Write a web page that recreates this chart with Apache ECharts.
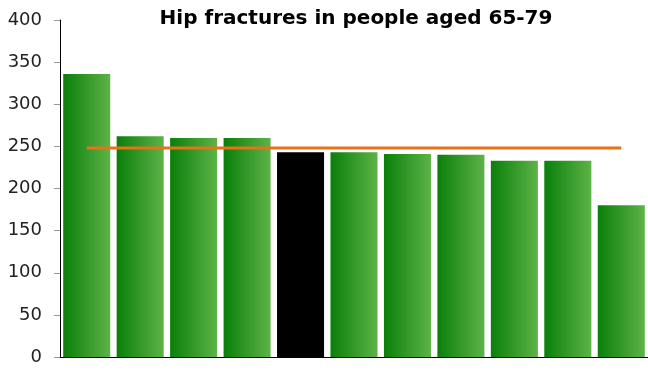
<!DOCTYPE html>
<html><head><meta charset="utf-8">
<script src="https://cdn.jsdelivr.net/npm/echarts@6/dist/echarts.min.js"></script>
<style>html,body{margin:0;padding:0;background:#fff}#c{width:648px;height:370px}</style>
</head><body><div id="c"></div>
<script>
const categories = ['A','B','C','D','E','F','G','H','I','J','K'];
const values = [336, 262, 260, 260, 243, 243, 241, 240, 233, 233, 180];
const highlightIndex = 4;
const averageValue = 248;
const yTicks = [0, 50, 100, 150, 200, 250, 300, 350, 400];

const green = new echarts.graphic.LinearGradient(0, 0, 1, 0, [
  {offset: 0, color: '#0a7f0a'}, {offset: 1, color: '#5db347'}
]);
const chart = echarts.init(document.getElementById('c'));
chart.setOption({
  animation: false,
  title: {text: 'Hip fractures in people aged 65-79', left: 351, textAlign: 'center', top: 4,
    textStyle: {fontFamily: 'DejaVu Sans', fontWeight: 'bold', fontSize: 20, color: '#000'}},
  grid: {left: 60, right: 0, top: 20, bottom: 13},
  xAxis: {type: 'category', data: categories, axisLabel: {show: false}, axisTick: {show: false},
    axisLine: {lineStyle: {color: '#000', width: 1}}},
  yAxis: {type: 'value', min: yTicks[0], max: yTicks[yTicks.length-1], interval: 50,
    splitLine: {show: false},
    axisLine: {show: true, lineStyle: {color: '#000'}},
    axisTick: {show: true, length: 6, lineStyle: {color: '#999'}},
    axisLabel: {fontFamily: 'DejaVu Sans', fontSize: 18, color: '#222', margin: 18}},
  series: [
    {type: 'bar', barCategoryGap: '12%',
     data: values.map((v, i) => ({value: v, itemStyle: {color: i === highlightIndex ? '#000' : green}}))},
    {type: 'line', data: categories.map(() => averageValue), symbol: 'none',
     lineStyle: {color: '#e8711a', width: 3}, z: 5}
  ]
});
</script></body></html>
